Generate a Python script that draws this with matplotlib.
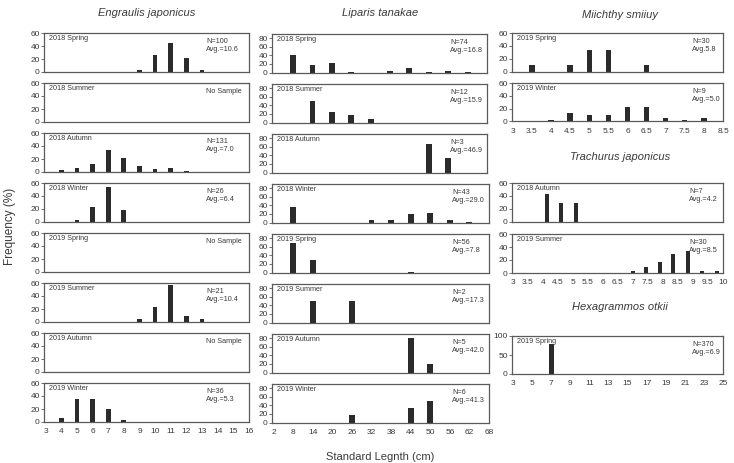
import matplotlib.pyplot as plt

plt.rcParams['font.family'] = ['Liberation Sans', 'DejaVu Sans']

# ---- Engraulis japonicus ----
eng_seasons = ['2018 Spring', '2018 Summer', '2018 Autumn', '2018 Winter',
               '2019 Spring', '2019 Summer', '2019 Autumn', '2019 Winter']
eng_info = ['N=100\nAvg.=10.6', 'No Sample', 'N=131\nAvg.=7.0', 'N=26\nAvg.=6.4',
            'No Sample', 'N=21\nAvg.=10.4', 'No Sample', 'N=36\nAvg.=5.3']
eng_x = [[9, 10, 11, 12, 13, 14, 15], [], [4, 5, 6, 7, 8, 9, 10, 11, 12],
         [5, 6, 7, 8], [], [9, 10, 11, 12, 13], [], [4, 5, 6, 7, 8]]
eng_y = [[2.6, 26, 44.3, 20.9, 3.7, 0.6, 0.6], [],
         [3.1, 6.9, 12.2, 33.6, 21.4, 9.2, 5.3, 6.1, 0.8],
         [3.8, 23.1, 53.8, 19.2], [], [4.8, 23.8, 57.1, 9.5, 4.8], [],
         [5.6, 36.1, 36.1, 19.4, 2.8]]
eng_ticks = list(range(3, 17))

# ---- Liparis tanakae ----
lip_seasons = eng_seasons
lip_info = ['N=74\nAvg.=16.8', 'N=12\nAvg.=15.9', 'N=3\nAvg.=46.9', 'N=43\nAvg.=29.0',
            'N=56\nAvg.=7.8', 'N=2\nAvg.=17.3', 'N=5\nAvg.=42.0', 'N=6\nAvg.=41.3']
lip_x = [[8, 14, 20, 26, 38, 44, 50, 56, 62], [14, 20, 26, 32], [50, 56],
         [8, 32, 38, 44, 50, 56, 62], [8, 14, 44], [14, 26], [44, 50], [26, 44, 50]]
lip_y = [[40.5, 17.6, 21.6, 1.4, 2.7, 9.5, 1.4, 4.1, 1.4], [50, 25, 16.7, 8.3],
         [66.7, 33.3], [37.2, 4.7, 7.0, 20.9, 23.3, 4.7, 2.3], [69.6, 28.6, 1.8],
         [50, 50], [80, 20], [16.7, 33.3, 50]]
lip_ticks = list(range(2, 69, 6))

# ---- Miichthy smiiuy ----
mii_seasons = ['2019 Spring', '2019 Winter']
mii_info = ['N=30\nAvg.5.8', 'N=9\nAvg.=5.0']
mii_x = [[3.5, 4.5, 5, 5.5, 6.5], [4, 4.5, 5, 5.5, 6, 6.5, 7, 7.5, 8]]
mii_y = [[10, 10, 33.3, 33.3, 10], [3, 13, 10, 10, 23, 23, 6, 3, 6]]
mii_ticks = [3, 3.5, 4, 4.5, 5, 5.5, 6, 6.5, 7, 7.5, 8, 8.5]

# ---- Trachurus japonicus ----
tra_seasons = ['2018 Autumn', '2019 Summer']
tra_info = ['N=7\nAvg.=4.2', 'N=30\nAvg.=8.5']
tra_x = [[4.15, 4.6, 5.1], [7.0, 7.45, 7.9, 8.35, 8.85, 9.3, 9.8]]
tra_y = [[42.9, 28.6, 28.6], [3.3, 10, 16.7, 30, 33.3, 3.3, 3.3]]
tra_ticks = [3, 3.5, 4, 4.5, 5, 5.5, 6, 6.5, 7, 7.5, 8, 8.5, 9, 9.5, 10]

# ---- Hexagrammos otkii ----
hex_season = '2019 Spring'
hex_info = 'N=370\nAvg.=6.9'
hex_x = [5, 7, 9, 19, 23]
hex_y = [0.6, 80, 1.2, 0.5, 1.2]
hex_ticks = list(range(3, 26, 2))

W, H = 734, 463
fig = plt.figure(figsize=(W / 100, H / 100), dpi=100)

BAR = '#2b2b2b'
SPINE = '#5a5a5a'
TXT = '#3a3a3a'


def make_ax(left, top, width, height):
    ax = fig.add_axes([left / W, 1 - (top + height) / H, width / W, height / H])
    for s in ax.spines.values():
        s.set_color(SPINE)
        s.set_linewidth(0.9)
    ax.tick_params(axis='y', length=2, width=0.6, pad=1, labelsize=6,
                   colors=SPINE, labelcolor=TXT)
    ax.tick_params(axis='x', length=0, pad=4.5, labelsize=6,
                   colors=SPINE, labelcolor=TXT)
    return ax


def panel(ax, x, y, width, season, info, xlim, ticks, yticks, ylim, infox, bottom):
    ax.bar(x, y, width=width, color=BAR)
    ax.set_xlim(*xlim)
    ax.set_ylim(*ylim)
    ax.set_yticks(yticks)
    ax.set_xticks(ticks)
    if bottom:
        ax.set_xticklabels([('%g' % t) for t in ticks])
    else:
        ax.tick_params(axis='x', labelbottom=False)
    ax.text(0.025, 0.95, season, transform=ax.transAxes, ha='left', va='top',
            fontsize=5.2, color=TXT)
    ax.text(infox, 0.88, info, transform=ax.transAxes, ha='left', va='top',
            fontsize=5.2, color=TXT, linespacing=1.25)


# column 1
for i in range(8):
    ax = make_ax(44, 33 + 50 * i, 205, 39)
    panel(ax, eng_x[i], eng_y[i], 0.3, eng_seasons[i], eng_info[i], (2.9, 16),
          eng_ticks, [0, 20, 40, 60], (0, 60), 0.79, i == 7)

# column 2
for i in range(8):
    w = 215 if i < 3 else 217
    ax = make_ax(272, 34 + 50 * i, w, 38.5)
    panel(ax, lip_x[i], lip_y[i], 1.8, lip_seasons[i], lip_info[i], (1.5, 68),
          lip_ticks, [0, 20, 40, 60, 80], (0, 90), 0.83, i == 7)

# column 3
for i in range(2):
    ax = make_ax(512, 33 + 50 * i, 211, 38.5)
    panel(ax, mii_x[i], mii_y[i], 0.14, mii_seasons[i], mii_info[i], (2.98, 8.5),
          mii_ticks, [0, 20, 40, 60], (0, 60), 0.855, i == 1)

for i in range(2):
    ax = make_ax(512, 183 + 51 * i, 211, 39)
    panel(ax, tra_x[i], tra_y[i], 0.13, tra_seasons[i], tra_info[i], (2.98, 10),
          tra_ticks, [0, 20, 40, 60], (0, 60), 0.84, i == 1)

ax = make_ax(512, 336, 211, 38)
panel(ax, hex_x, hex_y, 0.5, hex_season, hex_info, (2.9, 25), hex_ticks,
      [0, 50, 100], (0, 100), 0.855, True)

# titles and labels
title_kw = dict(fontsize=8, style='italic', color=TXT, ha='center', va='center')
fig.text(147 / W, 1 - 13 / H, 'Engraulis japonicus', **title_kw)
fig.text(380 / W, 1 - 13 / H, 'Liparis tanakae', **title_kw)
fig.text(620 / W, 1 - 15 / H, 'Miichthy smiiuy', **title_kw)
fig.text(620 / W, 1 - 157 / H, 'Trachurus japonicus', **title_kw)
fig.text(620 / W, 1 - 307 / H, 'Hexagrammos otkii', **title_kw)
fig.text(10 / W, 1 - 226 / H, 'Frequency (%)', rotation=90, fontsize=8.5,
         color=TXT, ha='center', va='center')
fig.text(380 / W, 1 - 457 / H, 'Standard Legnth (cm)', fontsize=8,
         color=TXT, ha='center', va='center')

fig.savefig('out.png', dpi=100)
